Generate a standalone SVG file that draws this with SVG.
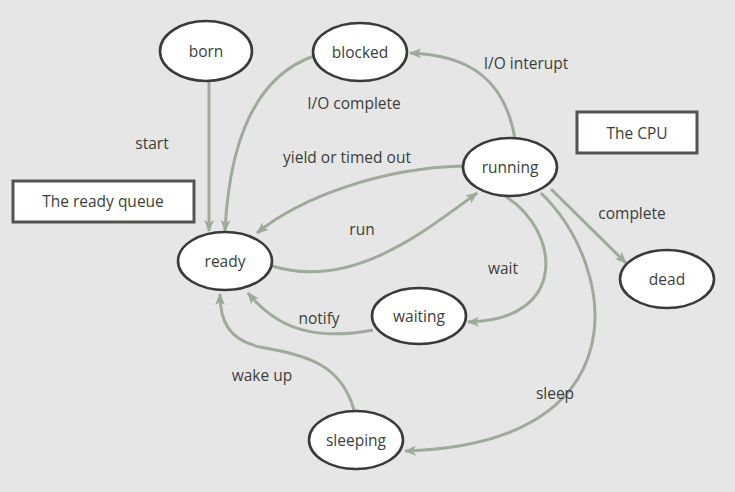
<svg xmlns="http://www.w3.org/2000/svg" width="735" height="492" viewBox="0 0 735 492">
<style>
.n ellipse{fill:#fff;stroke:#3a3a3a;stroke-width:2.6}
.b rect{fill:#fff;stroke:#505550;stroke-width:3}
text{font-family:"Open Sans","Noto Sans","DejaVu Sans",sans-serif;font-size:15.5px;fill:#3a3f3a;text-anchor:middle;dominant-baseline:central}
.e path{fill:none;stroke:#9eab9a;stroke-width:3;marker-end:url(#ah)}
</style>
<defs>
<marker id="ah" viewBox="0 0 12 10" refX="11" refY="5" markerWidth="12" markerHeight="10" markerUnits="userSpaceOnUse" orient="auto">
<path d="M0,0 L12,5 L0,10 L3,5 Z" fill="#9eab9a"/>
</marker>
</defs>
<rect width="735" height="492" fill="#e6e6e6"/>
<g class="e" id="edges">
<path d="M209,82 L209,231"/>
<path d="M314,56 C262,74 230,130 225,231"/>
<path d="M515,139 C505,80 470,55 410,53"/>
<path d="M463,166 C380,168 300,198 257,233"/>
<path d="M272,266 C350,290 420,235 477,193"/>
<path d="M505,196 C560,230 570,320 468,322"/>
<path d="M373,330 C320,340 280,332 248,293"/>
<path d="M354,410 C340,360 300,355 260,347 C228,340 220,320 220,294"/>
<path d="M541,193 C620,270 640,445 405,451"/>
<path d="M551,189 L626,263"/>
</g>
<g class="n" id="born"><ellipse cx="206" cy="51" rx="46" ry="30"/><text x="206" y="51">born</text></g>
<g class="n" id="blocked"><ellipse cx="360" cy="52" rx="47" ry="29"/><text x="360" y="52">blocked</text></g>
<g class="n" id="ready"><ellipse cx="225" cy="261" rx="47" ry="29"/><text x="225" y="261">ready</text></g>
<g class="n" id="running"><ellipse cx="510" cy="167" rx="47" ry="29"/><text x="510" y="167">running</text></g>
<g class="n" id="waiting"><ellipse cx="419" cy="316" rx="47" ry="28"/><text x="419" y="316">waiting</text></g>
<g class="n" id="sleeping"><ellipse cx="356" cy="440" rx="47" ry="29"/><text x="356" y="440">sleeping</text></g>
<g class="n" id="dead"><ellipse cx="667" cy="279" rx="47" ry="29"/><text x="667" y="279">dead</text></g>
<g class="b" id="readyqueue"><rect x="13" y="181" width="181" height="41"/><text x="103" y="201">The ready queue</text></g>
<g class="b" id="cpu"><rect x="577" y="112" width="120" height="41"/><text x="637" y="133">The CPU</text></g>
<g id="labels">
<text x="152" y="143">start</text>
<text x="354" y="103">I/O complete</text>
<text x="526" y="63">I/O interupt</text>
<text x="347" y="157">yield or timed out</text>
<text x="632" y="213">complete</text>
<text x="362" y="229">run</text>
<text x="503" y="268">wait</text>
<text x="319" y="318">notify</text>
<text x="262" y="375">wake up</text>
<text x="555" y="393">sleep</text>
</g>
</svg>
